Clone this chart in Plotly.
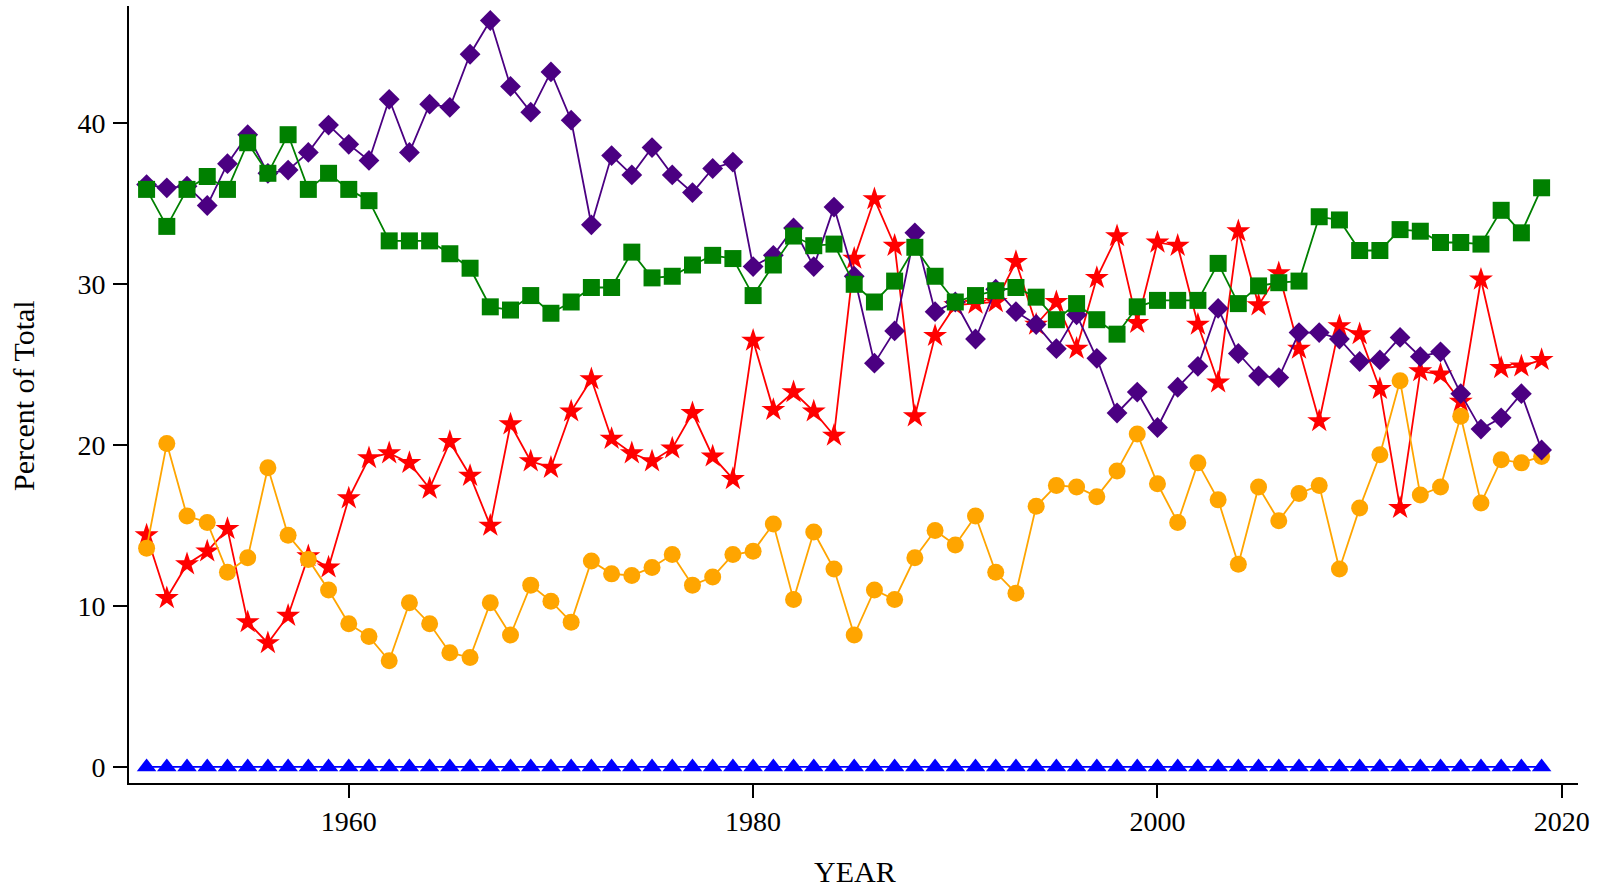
import plotly.graph_objects as go

years = list(range(1950, 2020))

diamond_vals = [
    36.2, 36.0, 36.1, 34.9, 37.5, 39.3, 36.9, 37.1, 38.2, 39.9,
    38.7, 37.7, 41.5, 38.2, 41.2, 41.0, 44.3, 46.4, 42.3, 40.7,
    43.2, 40.2, 33.7, 38.0, 36.8, 38.5, 36.8, 35.7, 37.2, 37.6,
    31.1, 31.8, 33.5, 31.1, 34.8, 30.5, 25.1, 27.1, 33.2, 28.3,
    28.9, 26.6, 29.7, 28.3, 27.5, 26.0, 28.1, 25.4, 22.0, 23.3,
    21.1, 23.6, 24.9, 28.5, 25.7, 24.3, 24.2, 27.0, 27.0, 26.6,
    25.2, 25.3, 26.7, 25.5, 25.8, 23.2, 21.0, 21.7, 23.2, 19.7,
]

square_vals = [
    35.9, 33.6, 35.9, 36.7, 35.9, 38.8, 36.9, 39.3, 35.9, 36.9,
    35.9, 35.2, 32.7, 32.7, 32.7, 31.9, 31.0, 28.6, 28.4, 29.3,
    28.2, 28.9, 29.8, 29.8, 32.0, 30.4, 30.5, 31.2, 31.8, 31.6,
    29.3, 31.2, 33.0, 32.4, 32.5, 30.0, 28.9, 30.2, 32.3, 30.5,
    28.9, 29.3, 29.6, 29.8, 29.2, 27.8, 28.8, 27.8, 26.9, 28.6,
    29.0, 29.0, 29.0, 31.3, 28.8, 29.9, 30.1, 30.2, 34.2, 34.0,
    32.1, 32.1, 33.4, 33.3, 32.6, 32.6, 32.5, 34.6, 33.2, 36.0,
]

star_vals = [
    14.4, 10.5, 12.6, 13.4, 14.8, 9.0, 7.7, 9.4, 13.1, 12.4,
    16.7, 19.2, 19.5, 18.9, 17.3, 20.2, 18.1, 15.0, 21.3, 19.0,
    18.6, 22.1, 24.1, 20.4, 19.5, 19.0, 19.8, 22.0, 19.3, 17.9,
    26.5, 22.2, 23.3, 22.1, 20.6, 31.6, 35.3, 32.4, 21.8, 26.8,
    28.7, 28.8, 28.9, 31.4, 27.5, 28.9, 26.0, 30.4, 33.0, 27.6,
    32.6, 32.4, 27.5, 23.9, 33.3, 28.7, 30.7, 26.0, 21.5, 27.4,
    26.9, 23.5, 16.1, 24.6, 24.4, 22.7, 30.3, 24.8, 24.9, 25.3,
]

circle_vals = [
    13.6, 20.1, 15.6, 15.2, 12.1, 13.0, 18.6, 14.4, 12.9, 11.0,
    8.9, 8.1, 6.6, 10.2, 8.9, 7.1, 6.8, 10.2, 8.2, 11.3,
    10.3, 9.0, 12.8, 12.0, 11.9, 12.4, 13.2, 11.3, 11.8, 13.2,
    13.4, 15.1, 10.4, 14.6, 12.3, 8.2, 11.0, 10.4, 13.0, 14.7,
    13.8, 15.6, 12.1, 10.8, 16.2, 17.5, 17.4, 16.8, 18.4, 20.7,
    17.6, 15.2, 18.9, 16.6, 12.6, 17.4, 15.3, 17.0, 17.5, 12.3,
    16.1, 19.4, 24.0, 16.9, 17.4, 21.8, 16.4, 19.1, 18.9, 19.3,
]

triangle_vals = [0.0] * 70

x_ticks = [1960, 1980, 2000, 2020]
y_ticks = [0, 10, 20, 30, 40]

FONT = "Liberation Serif, Times New Roman, serif"

# drawing order: triangles, stars, circles, diamonds, squares (last on top)
series = [
    ("triangles", triangle_vals, "#0000FF", "triangle-up", 17),
    ("stars", star_vals, "#FF0000", "star", 18),
    ("circles", circle_vals, "#FFA500", "circle", 17),
    ("diamonds", diamond_vals, "#4B0082", "diamond", 16),
    ("squares", square_vals, "#008000", "square", 17),
]

fig = go.Figure()
for name, vals, color, symbol, size in series:
    fig.add_trace(go.Scatter(
        x=years, y=vals, name=name, mode="lines+markers",
        line=dict(color=color, width=1.8),
        marker=dict(symbol=symbol, size=size, color=color, line=dict(width=0)),
        showlegend=False,
    ))

axis_common = dict(
    showgrid=False, zeroline=False, showline=True, linecolor="#000000",
    linewidth=2, ticks="outside", tickwidth=2, tickcolor="#000000",
    tickfont=dict(family=FONT, size=28, color="#000000"),
)

fig.update_layout(
    width=1604, height=889,
    margin=dict(l=129, r=26, t=6, b=106, pad=0),
    paper_bgcolor="white", plot_bgcolor="white",
    xaxis=dict(range=[1949.13, 2020.8], tickvals=x_ticks, ticklen=13,
               ticklabelstandoff=-1, **axis_common),
    yaxis=dict(range=[-1.0, 47.3], tickvals=y_ticks, ticklen=14,
               ticklabelstandoff=2, **axis_common),
    annotations=[
        dict(text="YEAR", xref="paper", yref="paper", x=0.501, y=-0.1133,
             xanchor="center", yanchor="middle", showarrow=False,
             font=dict(family=FONT, size=30, color="#000000")),
        dict(text="Percent of Total", xref="paper", yref="paper", x=-0.0725,
             y=0.4994, xanchor="center", yanchor="middle", textangle=-90,
             showarrow=False, font=dict(family=FONT, size=30, color="#000000")),
    ],
)

fig.write_html("out.html")
